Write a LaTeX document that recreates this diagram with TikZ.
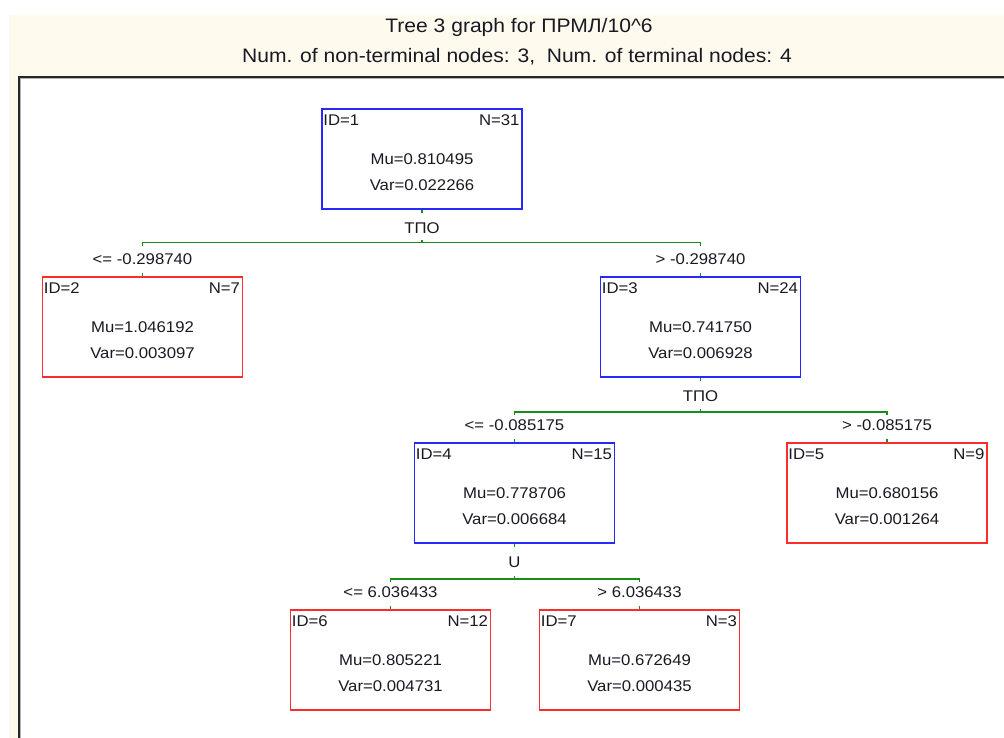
\documentclass[tikz,border=0pt]{standalone}
\usepackage{fontspec}
\setmainfont{Liberation Sans}
\newfontfamily\nf[FakeStretch=1.08]{Liberation Sans}
\usetikzlibrary{calc}
\definecolor{cream}{RGB}{255,250,238}
\definecolor{boxblue}{RGB}{40,40,250}
\definecolor{boxred}{RGB}{250,45,45}
\definecolor{edgegreen}{RGB}{25,140,25}
\definecolor{txt}{RGB}{25,25,35}
\tikzset{
  tbox/.style={draw, line width=1.5pt, minimum width=200pt, minimum height=100pt, inner sep=0pt},
  ntext/.style={inner sep=0pt, text=txt, font=\nf\fontsize{15.5}{18}\selectfont},
  ttext/.style={inner sep=0pt, text=txt, font=\nf\fontsize{19.5}{22}\selectfont},
  edge/.style={draw=edgegreen, line width=1.5pt},
}
\newcommand\tnode[8]{%
  \node[tbox, draw=#4] (#1) at (#2,#3) {};
  \node[ntext, anchor=west] (#1id) at ($(#1.north west)+(2,12)$) {ID=#5};
  \node[ntext, anchor=east] (#1n) at ($(#1.north east)+(-3,12)$) {N=#6};
  \node[ntext] (#1mu) at ($(#1.north)+(0,51)$) {Mu=#7};
  \node[ntext] (#1var) at ($(#1.north)+(0,77)$) {Var=#8};
}
% parent, left child, right child, bar offset, variable, left cond, right cond
\newcommand\tsplit[7]{%
  \coordinate (#1bar) at ($(#1.south)+(0,#4)$);
  \draw[edge] (#1.south) -- ++(0,3);
  \node[ntext] (#1split) at ($(#1.south)+(0,18)$) {#5};
  \draw[edge] (#1bar) -- ++(0,-3);
  \draw[edge] ($(#2.north |- #1bar)+(0,3)$) -- (#2.north |- #1bar) -- (#3.north |- #1bar) -- ++(0,3);
  \node[ntext] (#2cond) at ($(#2.north)+(0,-17)$) {#6};
  \node[ntext] (#3cond) at ($(#3.north)+(0,-17)$) {#7};
  \draw[edge] (#2.north) -- ++(0,-3);
  \draw[edge] (#3.north) -- ++(0,-3);
}
\begin{document}
\begin{tikzpicture}[x=1pt, y=-1pt]
\useasboundingbox (0,0) rectangle (1004,738);
\fill[white] (0,0) rectangle (1004,738);
\fill[cream] (9,15) rectangle (1004,738);
\fill[white] (18,76) rectangle (1004,738);
\draw[gray!60, line width=1pt] (20.5,738) -- (20.5,78.5) -- (1004,78.5);
\draw[black!85, line width=2pt] (19,738) -- (19,77) -- (1004,77);
\node[ttext] (title1) at (519,27) {Tree 3 graph for ПРМЛ/10\textasciicircum 6};
\node[ttext] (title2) at (517,57) {Num. of non-terminal nodes: 3,\ \ Num. of terminal nodes: 4};

\tnode{n1}{422}{159}{boxblue}{1}{31}{0.810495}{0.022266}
\tnode{n2}{142.5}{327}{boxred}{2}{7}{1.046192}{0.003097}
\tnode{n3}{700.5}{327}{boxblue}{3}{24}{0.741750}{0.006928}
\tnode{n4}{514.5}{493}{boxblue}{4}{15}{0.778706}{0.006684}
\tnode{n5}{887}{493}{boxred}{5}{9}{0.680156}{0.001264}
\tnode{n6}{390.5}{660}{boxred}{6}{12}{0.805221}{0.004731}
\tnode{n7}{639.5}{660}{boxred}{7}{3}{0.672649}{0.000435}

\tsplit{n1}{n2}{n3}{33}{ТПО}{<= -0.298740}{> -0.298740}
\tsplit{n3}{n4}{n5}{34}{ТПО}{<= -0.085175}{> -0.085175}
\tsplit{n4}{n6}{n7}{35}{U}{<= 6.036433}{> 6.036433}
\end{tikzpicture}
\end{document}
